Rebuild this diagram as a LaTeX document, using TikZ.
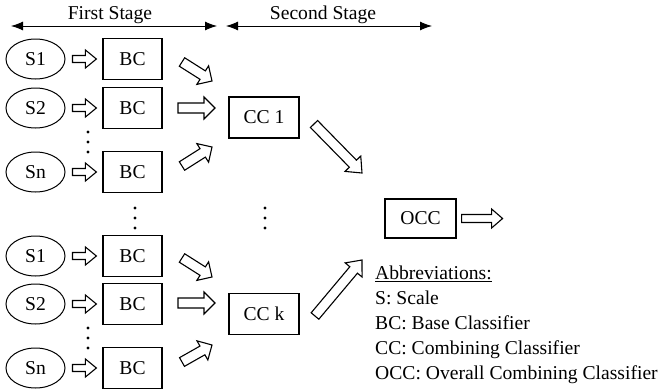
\documentclass[tikz,border=0pt]{standalone}
\usepackage{fontspec}
\setmainfont{Liberation Serif}
\usetikzlibrary{calc,shapes.geometric,arrows.meta}
\newcommand\hollowarrow[5]{%
  \coordinate (tmpH) at ($(#2)!#5!(#1)$);
  \draw[hollow] ($(#1)!#3!90:(#2)$) -- ($(tmpH)!#3!90:(#2)$) -- ($(tmpH)!#4!90:(#2)$) -- (#2)
    -- ($(tmpH)!#4!-90:(#2)$) -- ($(tmpH)!#3!-90:(#2)$) -- ($(#1)!#3!-90:(#2)$) -- cycle;}
\begin{document}
\begin{tikzpicture}[x=1pt,y=-1pt,
  font=\fontsize{19.6}{25}\selectfont,
  hollow/.style={draw,line width=1.1pt,fill=white,line join=miter},
  scl/.style={draw,ellipse,minimum width=59pt,minimum height=40pt,inner sep=0pt,line width=1pt},
  bcbox/.style={draw,minimum width=59pt,minimum height=41pt,inner sep=0pt,line width=1.2pt},
  ccbox/.style={draw,minimum width=70pt,minimum height=41pt,inner sep=0pt,line width=1.2pt},
  stagearrow/.style={line width=0.9pt,{Latex[length=12pt,width=9pt]}-{Latex[length=12pt,width=9pt]}},
  vdot/.style={circle,fill,inner sep=0pt,minimum size=3.2pt}]
\useasboundingbox (0,0) rectangle (662,391);
% stage headers
\node (fst) at (110,15) {First Stage};
\node (sst) at (323,15) {Second Stage};
\coordinate (fsl) at (11,26); \coordinate (fsr) at (217,26);
\coordinate (ssl) at (226,26); \coordinate (ssr) at (432,26);
\draw[stagearrow] (fsl) -- (fsr);
\draw[stagearrow] (ssl) -- (ssr);
% first group
\foreach \n/\t/\y in {a1/S1/59,a2/S2/108,an/Sn/172,b1/S1/256,b2/S2/304,bn/Sn/368}{
  \node[scl] (s\n) at (35.5,\y) {\t};
  \node[bcbox] (bc\n) at (132.5,\y) {BC};
  \coordinate (p\n) at ($(s\n.east)+(7,0)$);
  \coordinate (q\n) at ($(bc\n.west)+(-6,0)$);
  \hollowarrow{p\n}{q\n}{3.5pt}{9pt}{11pt}
}
% dots
\foreach \y in {132,142,152}{\node[vdot] (da\y) at (88,\y) {};}
\foreach \y in {328,338,348}{\node[vdot] (db\y) at (88,\y) {};}
\foreach \y in {208,218,228}{\node[vdot] (dc\y) at (135,\y) {};}
\foreach \y in {208,218,228}{\node[vdot] (dd\y) at (265,\y) {};}
% combining classifiers
\node[ccbox] (cc1) at (264,117.5) {CC 1};
\node[ccbox] (cck) at (264,314) {CC k};
\node[draw,minimum width=71pt,minimum height=39pt,inner sep=0pt,line width=1.2pt] (occ) at (420.5,218.5) {OCC};
% arrows into CC 1
\coordinate (u1) at (182,62); \coordinate (u2) at (212,81);
\coordinate (m1) at (178,108); \coordinate (m2) at (215,108);
\coordinate (l1) at (182,166); \coordinate (l2) at (212,147);
\hollowarrow{u1}{u2}{5pt}{11pt}{11pt}
\hollowarrow{m1}{m2}{5pt}{11pt}{11pt}
\hollowarrow{l1}{l2}{5pt}{11pt}{11pt}
% arrows into CC k
\coordinate (v1) at (182,258); \coordinate (v2) at (212,277);
\coordinate (n1) at (178,303); \coordinate (n2) at (215,303);
\coordinate (k1) at (182,362); \coordinate (k2) at (212,345);
\hollowarrow{v1}{v2}{5pt}{11pt}{11pt}
\hollowarrow{n1}{n2}{5pt}{11pt}{11pt}
\hollowarrow{k1}{k2}{5pt}{11pt}{11pt}
% arrows into OCC and out
\coordinate (c1a) at (314,124); \coordinate (c1b) at (362,173);
\coordinate (cka) at (315,316); \coordinate (ckb) at (362,260);
\hollowarrow{c1a}{c1b}{5pt}{11pt}{13pt}
\hollowarrow{cka}{ckb}{5pt}{11pt}{13pt}
\coordinate (oa) at ($(occ.east)+(5,0)$); \coordinate (ob) at ($(occ.east)+(46,0)$);
\hollowarrow{oa}{ob}{4pt}{9.5pt}{11pt}
% abbreviations
\node[anchor=north west,align=left,inner sep=0pt] (abbr) at (375,266)
  {\underline{Abbreviations:}\\S: Scale\\BC: Base Classifier\\CC: Combining Classifier\\OCC: Overall Combining Classifier};
\end{tikzpicture}
\end{document}
